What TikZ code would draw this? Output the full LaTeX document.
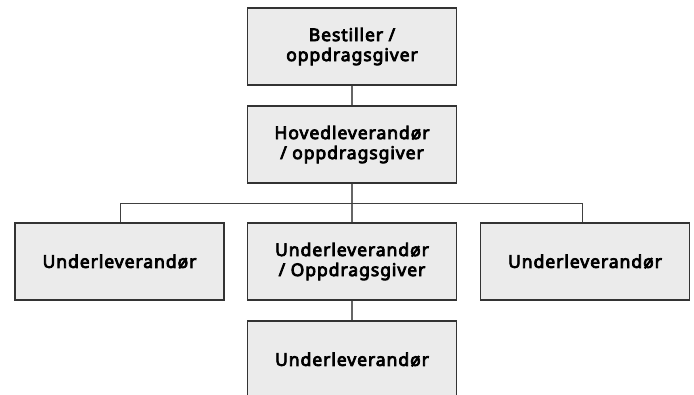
\documentclass[tikz,border=0pt]{standalone}
\usepackage{fontspec}
\setmainfont{Noto Sans}[BoldFont={Noto Sans},BoldFeatures={FakeBold=4.5,LetterSpace=5.5}]
\begin{document}
\begin{tikzpicture}[x=1pt,y=-1pt,
  orgbox/.style={draw=black!80,line width=1.1pt,fill=black!8,minimum width=209pt,minimum height=77pt,
    align=center,font=\fontsize{17.5}{20}\selectfont\bfseries,inner sep=0pt},
  link/.style={draw=black!60,line width=1.4pt},
  bus/.style={draw=black!75,line width=1pt}]
\useasboundingbox (0,0) rectangle (694,394);
\clip (0,0) rectangle (694,394);
\node[orgbox] (top) at (352,46.5) {Bestiller /\\oppdragsgiver};
\node[orgbox] (main) at (352,144.5) {Hovedleverandør\\/ oppdragsgiver};
\node[orgbox] (left) at (119.5,261.5) {Underleverandør};
\node[orgbox] (mid) at (352,261.5) {Underleverandør\\/ Oppdragsgiver};
\node[orgbox] (right) at (585,261.5) {Underleverandør};
\node[orgbox] (bot) at (352,359.5) {Underleverandør};
\coordinate (busl) at (120,203.5);
\coordinate (busr) at (582,203.5);
\draw[link] (top) -- (main);
\draw[link] (main) -- (mid);
\draw[link] (mid) -- (bot);
\draw[bus] (left.north -| busl) -- (busl) -- (busr) -- (right.north -| busr);
\end{tikzpicture}
\end{document}
